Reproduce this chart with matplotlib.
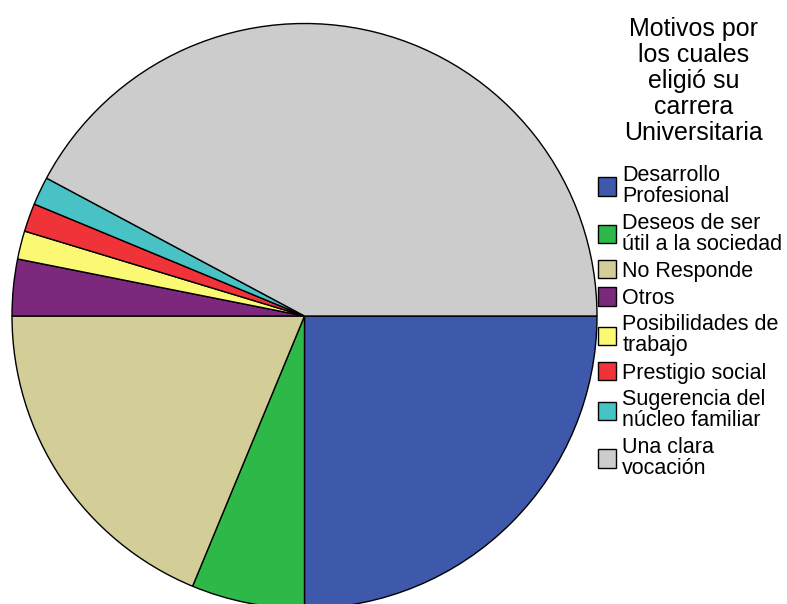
import matplotlib.pyplot as plt

# Datos del gráfico (frecuencias)
motivos = ['Desarrollo\nProfesional', 'Deseos de ser\nútil a la sociedad', 'No Responde',
           'Otros', 'Posibilidades de\ntrabajo', 'Prestigio social',
           'Sugerencia del\nnúcleo familiar', 'Una clara\nvocación']
frecuencias = [16, 4, 12, 2, 1, 1, 1, 27]
colores = ['#3E58AC', '#2EB848', '#D3CE97', '#7B287D', '#FBF873', '#EF3338', '#48C2C5', '#CCCCCC']
titulo = 'Motivos por\nlos cuales\neligió su\ncarrera\nUniversitaria'

plt.rcParams['font.family'] = ['Liberation Sans', 'DejaVu Sans']

fig = plt.figure(figsize=(7.87, 6.04), dpi=100)
# ejes cuadrados en píxeles: el círculo se sale un poco por abajo
ax = fig.add_axes([12 / 787, (604 - 608.5) / 604, 585 / 787, 585 / 604])

wedges, _ = ax.pie(frecuencias, colors=colores, startangle=0, counterclock=False,
                   wedgeprops=dict(edgecolor='black', linewidth=1.0))
for w in wedges:
    w.set_clip_on(False)
ax.set_xlim(-1, 1)
ax.set_ylim(-1, 1)
ax.axis('off')

# titulo de la leyenda
fig.text(693.5 / 787, 1 - 17 / 604, titulo, ha='center', va='top',
         fontsize=18, linespacing=1.1, multialignment='center')

leg = fig.legend(wedges, motivos, loc='upper left',
                 bbox_to_anchor=(598 / 787, 1 - 165 / 604),
                 frameon=False, fontsize=15.5, borderpad=0, borderaxespad=0,
                 handlelength=0.83, handleheight=0.93, handletextpad=0.3,
                 labelspacing=0.26)
for t in leg.get_texts():
    t.set_linespacing(1.0)

fig.savefig('out.png', dpi=100)
